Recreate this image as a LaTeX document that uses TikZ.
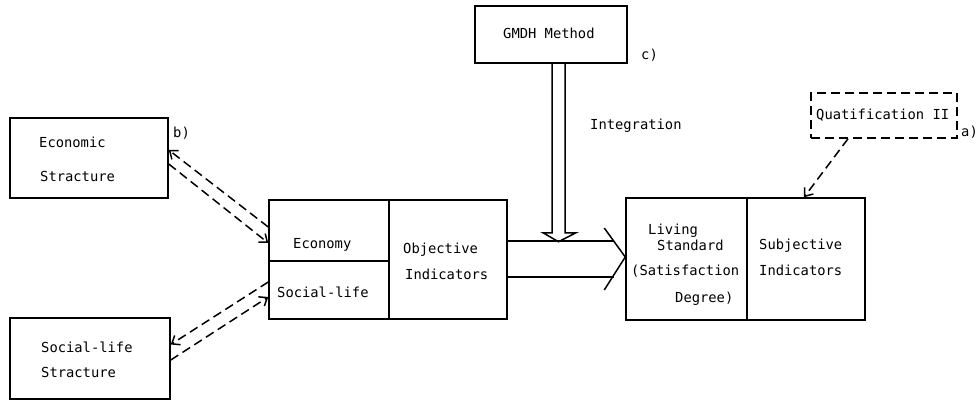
\documentclass[tikz,border=0pt]{standalone}
\usepackage{fontspec}
\newfontfamily\tw{DejaVu Sans Mono}
\usetikzlibrary{arrows.meta,calc}
\begin{document}
\begin{tikzpicture}[x=1pt,y=-1pt,
  box/.style={draw,line width=1.5pt,inner sep=0pt},
  lbl/.style={anchor=base west,inner sep=0pt,font=\tw\fontsize{13.8}{16}\selectfont},
  dsh/.style={line width=1.5pt,dash pattern=on 9pt off 5pt,-{Straight Barb[length=7pt,width=11pt,line width=1.5pt]}},
  ln/.style={line width=1.5pt}
]
\useasboundingbox (0,0) rectangle (977,401);
% boxes
\node[box,minimum width=158pt,minimum height=80pt] (eco) at (89,158) {};
\node[box,minimum width=160pt,minimum height=81pt] (soc) at (90,358.5) {};
\node[box,minimum width=120pt,minimum height=61pt] (ecoc) at (329,230.5) {};
\node[box,minimum width=120pt,minimum height=58pt] (socc) at (329,290) {};
\node[box,minimum width=118pt,minimum height=119pt] (obj) at (448,259.5) {};
\node[box,minimum width=152pt,minimum height=57pt] (gmdh) at (551,34.5) {};
\node[box,minimum width=121pt,minimum height=122pt] (liv) at (686.5,259) {};
\node[box,minimum width=118pt,minimum height=122pt] (subj) at (806,259) {};
\node[box,dash pattern=on 9pt off 5pt,minimum width=146pt,minimum height=45pt] (quat) at (884,115.5) {};
% texts
\node[lbl] (t1) at (39,147) {Economic};
\node[lbl] (t2) at (40,182) {Stracture};
\node[lbl] (t3) at (41,352) {Social-life};
\node[lbl] (t4) at (41,377) {Stracture};
\node[lbl] (t5) at (293,248) {Economy};
\node[lbl] (t6) at (277,297) {Social-life};
\node[lbl] (t7) at (403,253) {Objective};
\node[lbl] (t8) at (405,279) {Indicators};
\node[lbl] (t9) at (503,39) {GMDH Method};
\node[lbl] (t10) at (590,130) {Integration};
\node[lbl] (t11) at (648,234) {Living};
\node[lbl] (t12) at (657,250) {Standard};
\node[lbl] (t13) at (631,275) {(Satisfaction};
\node[lbl] (t14) at (675,302) {Degree)};
\node[lbl] (t15) at (759,249) {Subjective};
\node[lbl] (t16) at (759,275) {Indicators};
\node[lbl] (t17) at (816,120) {Quatification II};
\node[lbl] (la) at (961,137) {a)};
\node[lbl] (lb) at (173,138) {b)};
\node[lbl] (lc) at (641,60) {c)};
% dashed connectors
\draw[dsh] ([yshift=3.5pt]ecoc.west) -- ([yshift=8pt]eco.east);
\draw[dsh] ([yshift=-6pt]eco.east) -- ([yshift=-12.5pt]ecoc.west);
\draw[dsh] ([yshift=8pt]socc.west) -- ([yshift=14pt]soc.west -| soc.east);
\draw[dsh] ([yshift=-1.5pt]soc.east) -- ([yshift=-7pt]socc.west);
\draw[dsh] ([xshift=-36pt]quat.south) -- ([xshift=-2pt]subj.north);
% big arrow
\draw[ln] ([yshift=18.5pt]obj.east) -- ++(106,0);
\draw[ln] ([yshift=-17.5pt]obj.east) -- ++(106,0);
\coordinate (tip) at ([yshift=2pt]liv.west);
\draw[ln] ($(tip)+(-21,-29)$) -- (tip) -- ($(tip)+(-21,33)$);
% hollow integration arrow
\draw[ln,line join=miter] ([xshift=1pt]gmdh.south) -- ++(0,169) -- ++(-9,0) -- ++(15.5,9) -- ++(17.5,-9) -- ++(-11,0) -- ([xshift=14pt]gmdh.south);
\end{tikzpicture}
\end{document}
